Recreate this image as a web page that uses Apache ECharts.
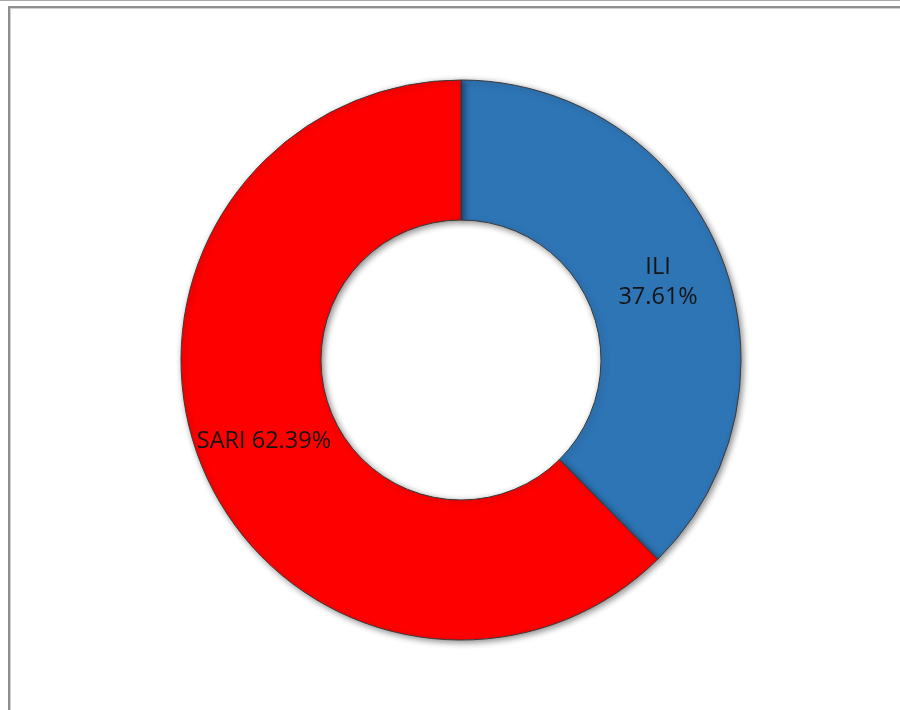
<!DOCTYPE html>
<html>
<head>
<meta charset="utf-8">
<script src="https://cdn.jsdelivr.net/npm/echarts@6/dist/echarts.min.js"></script>
<style>
html,body{margin:0;padding:0;background:#fff;}
#chart{width:900px;height:710px;}
</style>
</head>
<body>
<div id="chart"></div>
<script>
const categories = ['ILI', 'SARI'];
const values = [37.61, 62.39];
const colors = ['#2E75B6', '#FF0000'];
const labelLayouts = ['multi', 'single'];

const chart = echarts.init(document.getElementById('chart'), null, {renderer: 'canvas'});
const data = categories.map((c, i) => ({
  name: c,
  value: values[i],
  itemStyle: {color: colors[i]},
  label: {
    formatter: labelLayouts[i] === 'multi' ? '{b}\n' + values[i].toFixed(2) + '%' : '{b} ' + values[i].toFixed(2) + '%',
    offset: labelLayouts[i] === 'multi' ? [0, 3] : [0, 0]
  }
}));

chart.setOption({
  animation: false,
  backgroundColor: '#ffffff',
  graphic: [
    {type: 'rect', shape: {x: 0, y: 0, width: 900, height: 1}, style: {fill: '#a6a6a6'}, silent: true},
    {type: 'rect', shape: {x: 8, y: 6, width: 892, height: 2}, style: {fill: '#8e8e8e'}, silent: true},
    {type: 'rect', shape: {x: 8, y: 6, width: 2, height: 704}, style: {fill: '#8e8e8e'}, silent: true},
    {type: 'rect', shape: {x: 10, y: 8, width: 890, height: 1}, style: {fill: '#d0d0d0'}, silent: true},
    {type: 'rect', shape: {x: 10, y: 8, width: 1, height: 702}, style: {fill: '#d0d0d0'}, silent: true}
  ],
  series: [{
    type: 'pie',
    center: [461, 360],
    radius: [140, 280],
    startAngle: 90,
    clockwise: true,
    avoidLabelOverlap: false,
    itemStyle: {
      borderColor: '#3a3a3a',
      borderWidth: 1,
      shadowBlur: 6,
      shadowColor: 'rgba(0,0,0,0.45)',
      shadowOffsetX: 2,
      shadowOffsetY: 2
    },
    label: {
      show: true,
      position: 'inside',
      color: '#141414',
      fontFamily: 'Open Sans',
      fontSize: 23.5,
      lineHeight: 30
    },
    labelLine: {show: false},
    emphasis: {disabled: true},
    data: data
  }]
});
</script>
</body>
</html>
